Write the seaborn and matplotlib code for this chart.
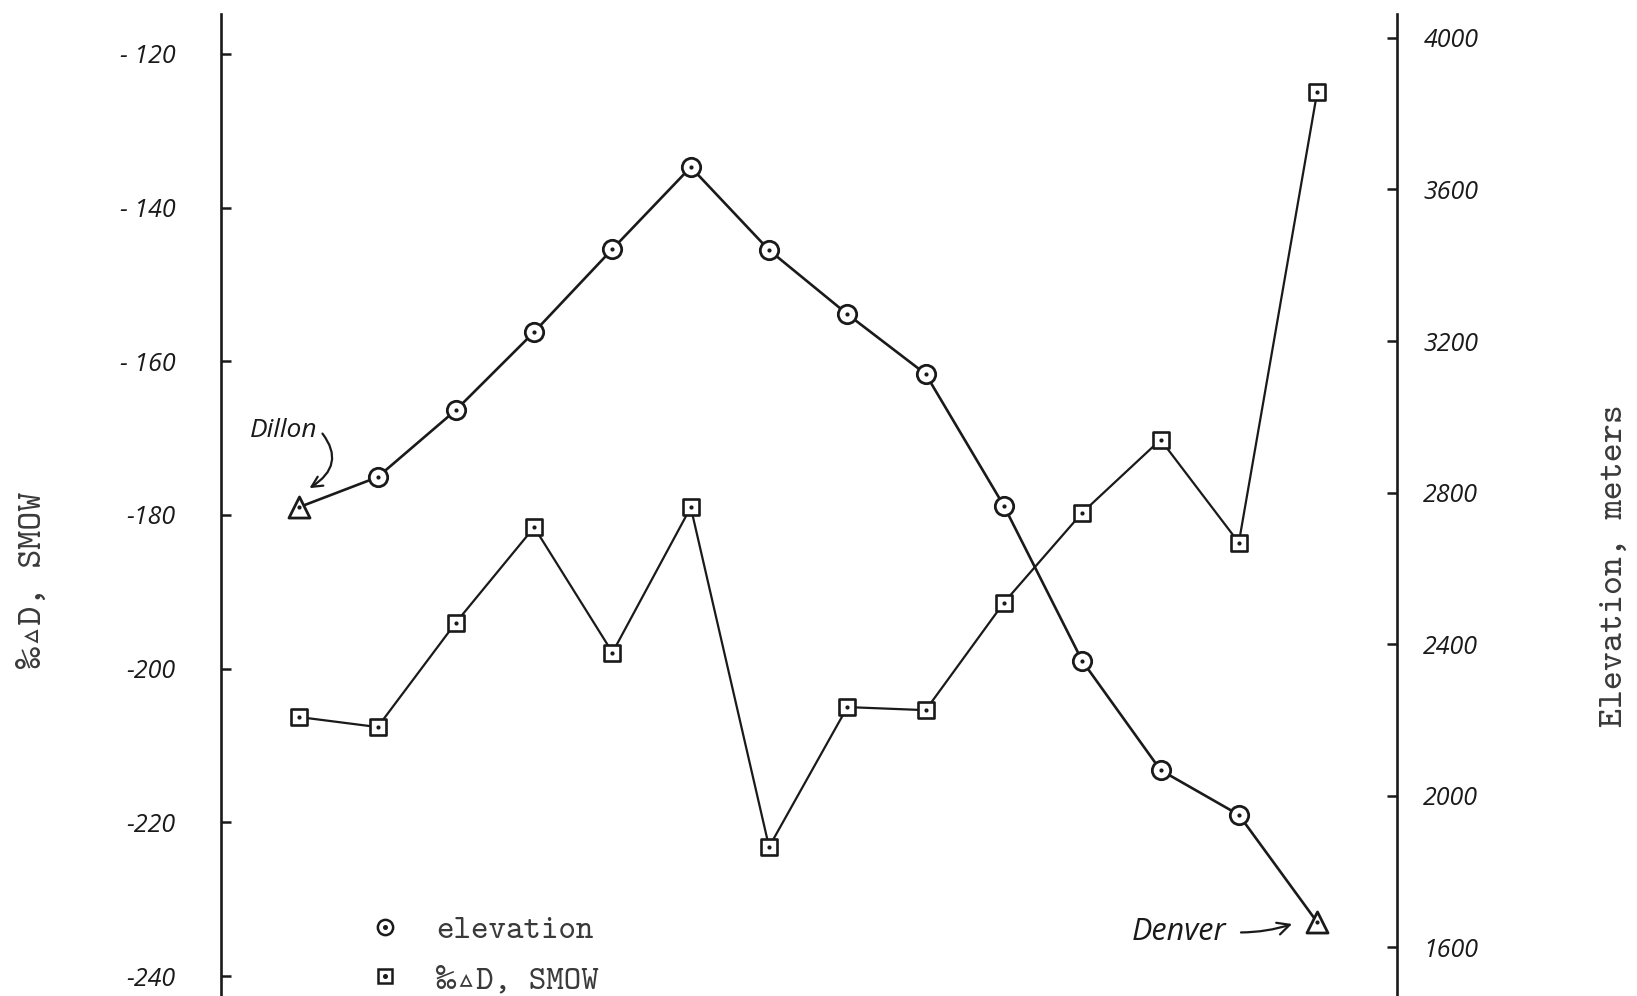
import matplotlib
matplotlib.use("Agg")
import matplotlib.pyplot as plt
from matplotlib.lines import Line2D
from matplotlib.legend_handler import HandlerTuple
import seaborn as sns
import pandas as pd

# Sampling stations along the traverse, Dillon (0) to Denver (13)
station = list(range(14))
elevation_m = [2762, 2841, 3018, 3224, 3443, 3659, 3440, 3271, 3113, 2765, 2356, 2068, 1950, 1667]
delta_d = [-206.3, -207.6, -194.0, -181.6, -197.9, -179.0, -223.2, -205.0, -205.4,
           -191.4, -179.7, -170.2, -183.6, -125.0]

delta_ticks = [-120, -140, -160, -180, -200, -220, -240]
delta_ticklabels = ["- 120", "- 140", "- 160", "-180", "-200", "-220", "-240"]
elev_ticks = [4000, 3600, 3200, 2800, 2400, 2000, 1600]
elev_ticklabels = ["4000", "3600", "3200", "2800", "2400", "2000", "1600"]

NBSP = "\u00a0"
left_label = f"‰▵D,{NBSP}SMOW"
right_label = f"Elevation,{NBSP}meters"
legend_labels = ["elevation", f"‰▵D,{NBSP}SMOW"]
start_name, end_name = "Dillon", "Denver"

sns.set_theme(style="white")
plt.rcParams["font.family"] = ["DejaVu Sans"]

hand = dict(family=["Open Sans", "DejaVu Sans"], style="italic", weight="normal")
typewriter = ["cmtt10", "DejaVu Sans Mono"]

df = pd.DataFrame({"station": station, "elev": elevation_m, "dD": delta_d})
df["end"] = (df["station"] == df["station"].min()) | (df["station"] == df["station"].max())

W, H = 1637, 996
fig = plt.figure(figsize=(W / 100, H / 100), dpi=100)
ax = fig.add_axes([221 / W, 0.0, (1397 - 221) / W, 982 / H])
ax2 = ax.twinx()

ink = "#1a1a1a"
type_ink = "#3a3a3a"

# deuterium series (left axis)
sns.lineplot(data=df, x="station", y="dD", ax=ax, color=ink, lw=1.6, zorder=2)
sns.scatterplot(data=df, x="station", y="dD", ax=ax, marker="s", s=125, color="white",
                edgecolor=ink, linewidth=1.9, zorder=3, legend=False)
sns.scatterplot(data=df, x="station", y="dD", ax=ax, marker="o", s=9, color=ink,
                edgecolor=ink, linewidth=0, zorder=4, legend=False)

# elevation series (right axis)
sns.lineplot(data=df, x="station", y="elev", ax=ax2, color=ink, lw=1.9, zorder=2)
sns.scatterplot(data=df[~df["end"]], x="station", y="elev", ax=ax2, marker="o", s=175,
                color="white", edgecolor=ink, linewidth=2.0, zorder=3, legend=False)
sns.scatterplot(data=df[df["end"]], x="station", y="elev", ax=ax2, marker="^", s=230,
                color="white", edgecolor=ink, linewidth=2.0, zorder=3, legend=False)
sns.scatterplot(data=df, x="station", y="elev", ax=ax2, marker="o", s=9, color=ink,
                edgecolor=ink, linewidth=0, zorder=4, legend=False)

ax.set_xlim(-1, 14.02)
ax.set_ylim(-242.6, -114.8)
ax2.set_ylim(1472, 4063)

for a in (ax, ax2):
    a.set_xlabel("")
    a.set_ylabel("")
    a.set_xticks([])
    a.grid(False)
    for s in ("top", "bottom"):
        a.spines[s].set_visible(False)
ax.spines["right"].set_visible(False)
ax2.spines["left"].set_visible(False)
ax.spines["left"].set_color(ink)
ax.spines["left"].set_linewidth(1.9)
ax2.spines["right"].set_color(ink)
ax2.spines["right"].set_linewidth(1.9)

ax.set_yticks(delta_ticks)
ax.set_yticklabels(delta_ticklabels, fontsize=18, color=ink, **hand)
ax.tick_params(axis="y", direction="in", length=7, width=1.8, color=ink, pad=33, left=True)

ax2.set_yticks(elev_ticks)
ax2.set_yticklabels(elev_ticklabels, fontsize=18, color=ink, **hand)
ax2.tick_params(axis="y", direction="in", length=7, width=1.8, color=ink, pad=19, right=True)

fig.text(34 / W, 1 - 580 / H, left_label, rotation=90, ha="center", va="center",
         fontsize=26, color=type_ink, family=typewriter)
fig.text(1615 / W, 1 - 566 / H, right_label, rotation=90, ha="center", va="center",
         fontsize=26, color=type_ink, family=typewriter)

# station annotations
ax2.annotate(start_name, xy=(0.13, 2812), xytext=(-0.2, 2965), textcoords="data",
             ha="center", va="center", fontsize=19, color=ink, **hand,
             arrowprops=dict(arrowstyle="->", color=ink, lw=1.6,
                             connectionstyle="arc3,rad=-0.6", relpos=(1.0, 0.6),
                             shrinkA=2, shrinkB=0))
ax2.annotate(end_name, xy=(12.68, 1662), xytext=(11.24, 1641), textcoords="data",
             ha="center", va="center", fontsize=22, color=ink, **hand,
             arrowprops=dict(arrowstyle="->", color=ink, lw=1.6,
                             connectionstyle="arc3,rad=0.1", relpos=(1.0, 0.5),
                             shrinkA=8, shrinkB=0))

# legend
dot = Line2D([], [], marker="o", ls="none", ms=2.6, color=ink)
h_elev = (Line2D([], [], marker="o", ls="none", ms=11, mfc="white", mec=ink, mew=1.8), dot)
h_dd = (Line2D([], [], marker="s", ls="none", ms=10, mfc="white", mec=ink, mew=1.8), dot)
leg = ax.legend([h_elev, h_dd], legend_labels, handler_map={tuple: HandlerTuple(ndivide=1, pad=0)},
                loc="lower left", bbox_to_anchor=(370 / W, 0.0), bbox_transform=fig.transFigure,
                frameon=False, handlelength=0.9, handletextpad=1.08, labelspacing=0.55,
                borderpad=0, borderaxespad=0,
                prop=dict(family=typewriter, size=24))
for t in leg.get_texts():
    t.set_color(type_ink)

fig.savefig("out.png", dpi=100, facecolor="white")
